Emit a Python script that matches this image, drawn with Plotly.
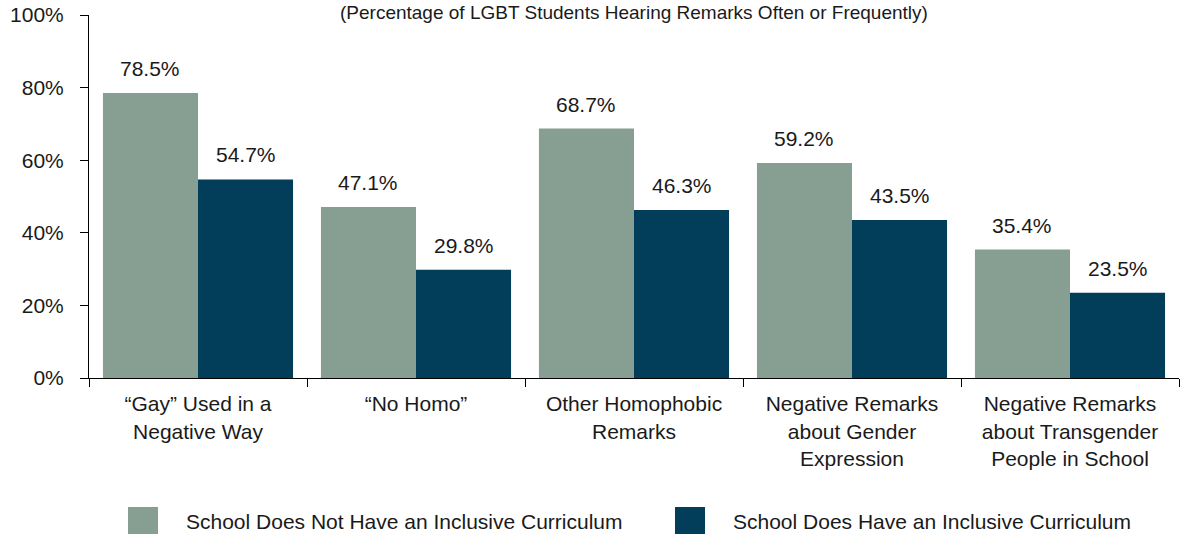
import plotly.graph_objects as go

categories = [
    "\u201cGay\u201d Used in a<br>Negative Way",
    "\u201cNo Homo\u201d",
    "Other Homophobic<br>Remarks",
    "Negative Remarks<br>about Gender<br>Expression",
    "Negative Remarks<br>about Transgender<br>People in School",
]
no_curriculum = [78.5, 47.1, 68.7, 59.2, 35.4]
with_curriculum = [54.7, 29.8, 46.3, 43.5, 23.5]
series_names = [
    "School Does Not Have an Inclusive Curriculum",
    "School Does Have an Inclusive Curriculum",
]
y_ticks = [0, 20, 40, 60, 80, 100]
y_tick_text = [f"{v}%" for v in y_ticks]

GRAY = "#879e92"
NAVY = "#023d5a"
TEXT = "#1a1a1a"
FONT = "Liberation Sans, Arial, sans-serif"
FS = 21

fig = go.Figure()

fig.add_trace(go.Bar(x=categories, y=no_curriculum, name=series_names[0],
                     marker=dict(color=GRAY, line=dict(width=0))))
fig.add_trace(go.Bar(x=categories, y=with_curriculum, name=series_names[1],
                     marker=dict(color=NAVY, line=dict(width=0))))

# value labels above bars
half = 0.218
for i in range(len(categories)):
    for vals, off in ((no_curriculum, -half), (with_curriculum, half)):
        fig.add_annotation(x=i + off, y=vals[i], text=f"{vals[i]:.1f}%",
                           showarrow=False, yanchor="bottom", yshift=11,
                           font=dict(size=FS, color=TEXT, family=FONT))

# subtitle at the very top (kept fully inside the page)
fig.add_annotation(xref="paper", yref="paper", x=0.5, y=1.041,
                   text="(Percentage of LGBT Students Hearing Remarks Often or Frequently)",
                   showarrow=False, yanchor="top",
                   font=dict(size=19, color=TEXT, family=FONT))

# legend drawn by hand (large swatches)
pw, ph = 1090.0, 363.0
def px_x(p):
    return (p - 89) / pw
def px_y(p):
    return (378 - p) / ph

for name, color, sx, tx in ((series_names[0], GRAY, 128, 184),
                            (series_names[1], NAVY, 675, 731)):
    fig.add_shape(type="rect", xref="paper", yref="paper",
                  x0=px_x(sx), x1=px_x(sx + 30), y0=px_y(534), y1=px_y(507),
                  fillcolor=color, line=dict(width=0))
    fig.add_annotation(xref="paper", yref="paper", x=px_x(tx), y=px_y(521),
                       text=name, showarrow=False, xanchor="left", yanchor="middle",
                       font=dict(size=FS, color=TEXT, family=FONT))

fig.update_layout(
    width=1181, height=534,
    margin=dict(l=89, r=2, t=15, b=156, autoexpand=False),
    barmode="group", bargap=0.128, bargroupgap=0,
    showlegend=False,
    plot_bgcolor="white", paper_bgcolor="white",
    font=dict(family=FONT, size=FS, color=TEXT),
)
fig.update_xaxes(
    type="category", tickson="boundaries",
    range=[-0.5, len(categories) - 0.5],
    showline=True, linecolor="black", linewidth=1,
    ticks="outside", ticklen=8, tickcolor="black",
    ticklabelstandoff=7,
    showgrid=False, zeroline=False, automargin=False,
    tickfont=dict(size=FS),
)
fig.update_yaxes(
    range=[0, 100], tickmode="array", tickvals=y_ticks, ticktext=y_tick_text,
    showline=True, linecolor="black", linewidth=1,
    ticks="outside", ticklen=8, tickcolor="black",
    ticklabelstandoff=12,
    showgrid=False, zeroline=False, automargin=False,
    tickfont=dict(size=FS),
)

fig.write_html("out.html", config={"displayModeBar": False},
               post_script="document.body.style.margin='0';")
